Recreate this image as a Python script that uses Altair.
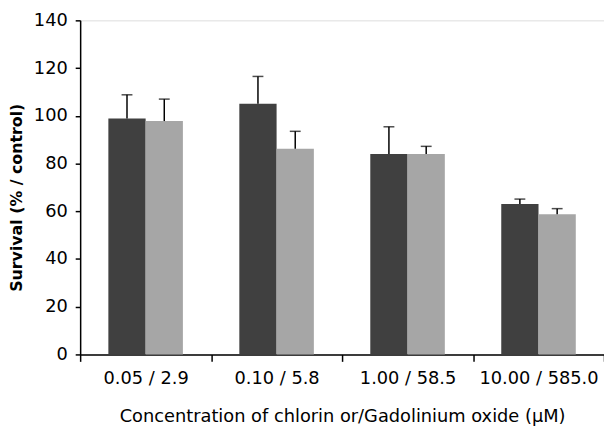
import altair as alt
import pandas as pd

categories = ["0.05 / 2.9", "0.10 / 5.8", "1.00 / 58.5", "10.00 / 585.0"]
series = ["Chlorin", "Gadolinium oxide"]
chlorin = [98.9, 105.1, 84.0, 63.0]
chlorin_err = [9.9, 11.4, 11.4, 2.1]
gadolinium = [97.8, 86.2, 84.0, 58.7]
gadolinium_err = [9.2, 7.3, 3.2, 2.4]

rows = []
for c, v, e in zip(categories, chlorin, chlorin_err):
    rows.append({"cat": c, "series": series[0], "value": v, "upper": v + e})
for c, v, e in zip(categories, gadolinium, gadolinium_err):
    rows.append({"cat": c, "series": series[1], "value": v, "upper": v + e})
df = pd.DataFrame(rows)

FONT = "DejaVu Sans"

x_enc = alt.X(
    "cat:N",
    sort=categories,
    scale=alt.Scale(paddingInner=0, paddingOuter=0),
    axis=alt.Axis(
        title="Concentration of chlorin or/Gadolinium oxide (μM)",
        labelAngle=0,
        tickBand="extent",
        ticks=True,
        tickSize=7,
        tickWidth=1.5,
        tickColor="black",
        domainColor="black",
        domainWidth=1.5,
        labelFont=FONT,
        labelFontSize=18,
        labelColor="black",
        labelPadding=8,
        titleFont=FONT,
        titleFontSize=18,
        titleFontWeight="normal",
        titleColor="black",
        titlePadding=21,
    ),
)
xo = alt.XOffset("series:N", sort=series, scale=alt.Scale(paddingInner=0, paddingOuter=0.757))

y_scale = alt.Scale(domain=[0, 140], nice=False)
y_axis = alt.Axis(
    title="Survival (% / control)",
    values=[0, 20, 40, 60, 80, 100, 120, 140],
    grid=False,
    tickSize=5,
    tickWidth=1.5,
    tickColor="black",
    domainColor="black",
    domainWidth=1.5,
    labelFont=FONT,
    labelFontSize=18,
    labelColor="black",
    labelPadding=8,
    titleFont=FONT,
    titleFontSize=16,
    titleFontWeight="bold",
    titleColor="black",
    titlePadding=9,
    titleY=179,
)

bars = alt.Chart(df).mark_bar().encode(
    x=x_enc,
    xOffset=xo,
    y=alt.Y("value:Q", scale=y_scale, axis=y_axis),
    color=alt.Color(
        "series:N",
        sort=series,
        scale=alt.Scale(domain=series, range=["#404040", "#a6a6a6"]),
        legend=None,
    ),
)

err = alt.Chart(df).mark_rule(color="black", strokeWidth=1.5).encode(
    x=alt.X("cat:N", sort=categories),
    xOffset=xo,
    y=alt.Y("value:Q", scale=y_scale),
    y2="upper:Q",
)

caps = alt.Chart(df).mark_tick(color="black", thickness=1.5, size=11, orient="horizontal").encode(
    x=alt.X("cat:N", sort=categories),
    xOffset=xo,
    y=alt.Y("upper:Q", scale=y_scale),
)

chart = (
    alt.layer(bars, err, caps)
    .properties(
        width=530,
        height=338,
        autosize=alt.AutoSizeParams(type="none"),
        padding={"left": 73, "top": 10, "right": 0, "bottom": 78},
    )
    .configure_view(stroke=None)
    .configure(background="white")
)

chart.save("out.html", embed_options={"renderer": "svg", "actions": False})
